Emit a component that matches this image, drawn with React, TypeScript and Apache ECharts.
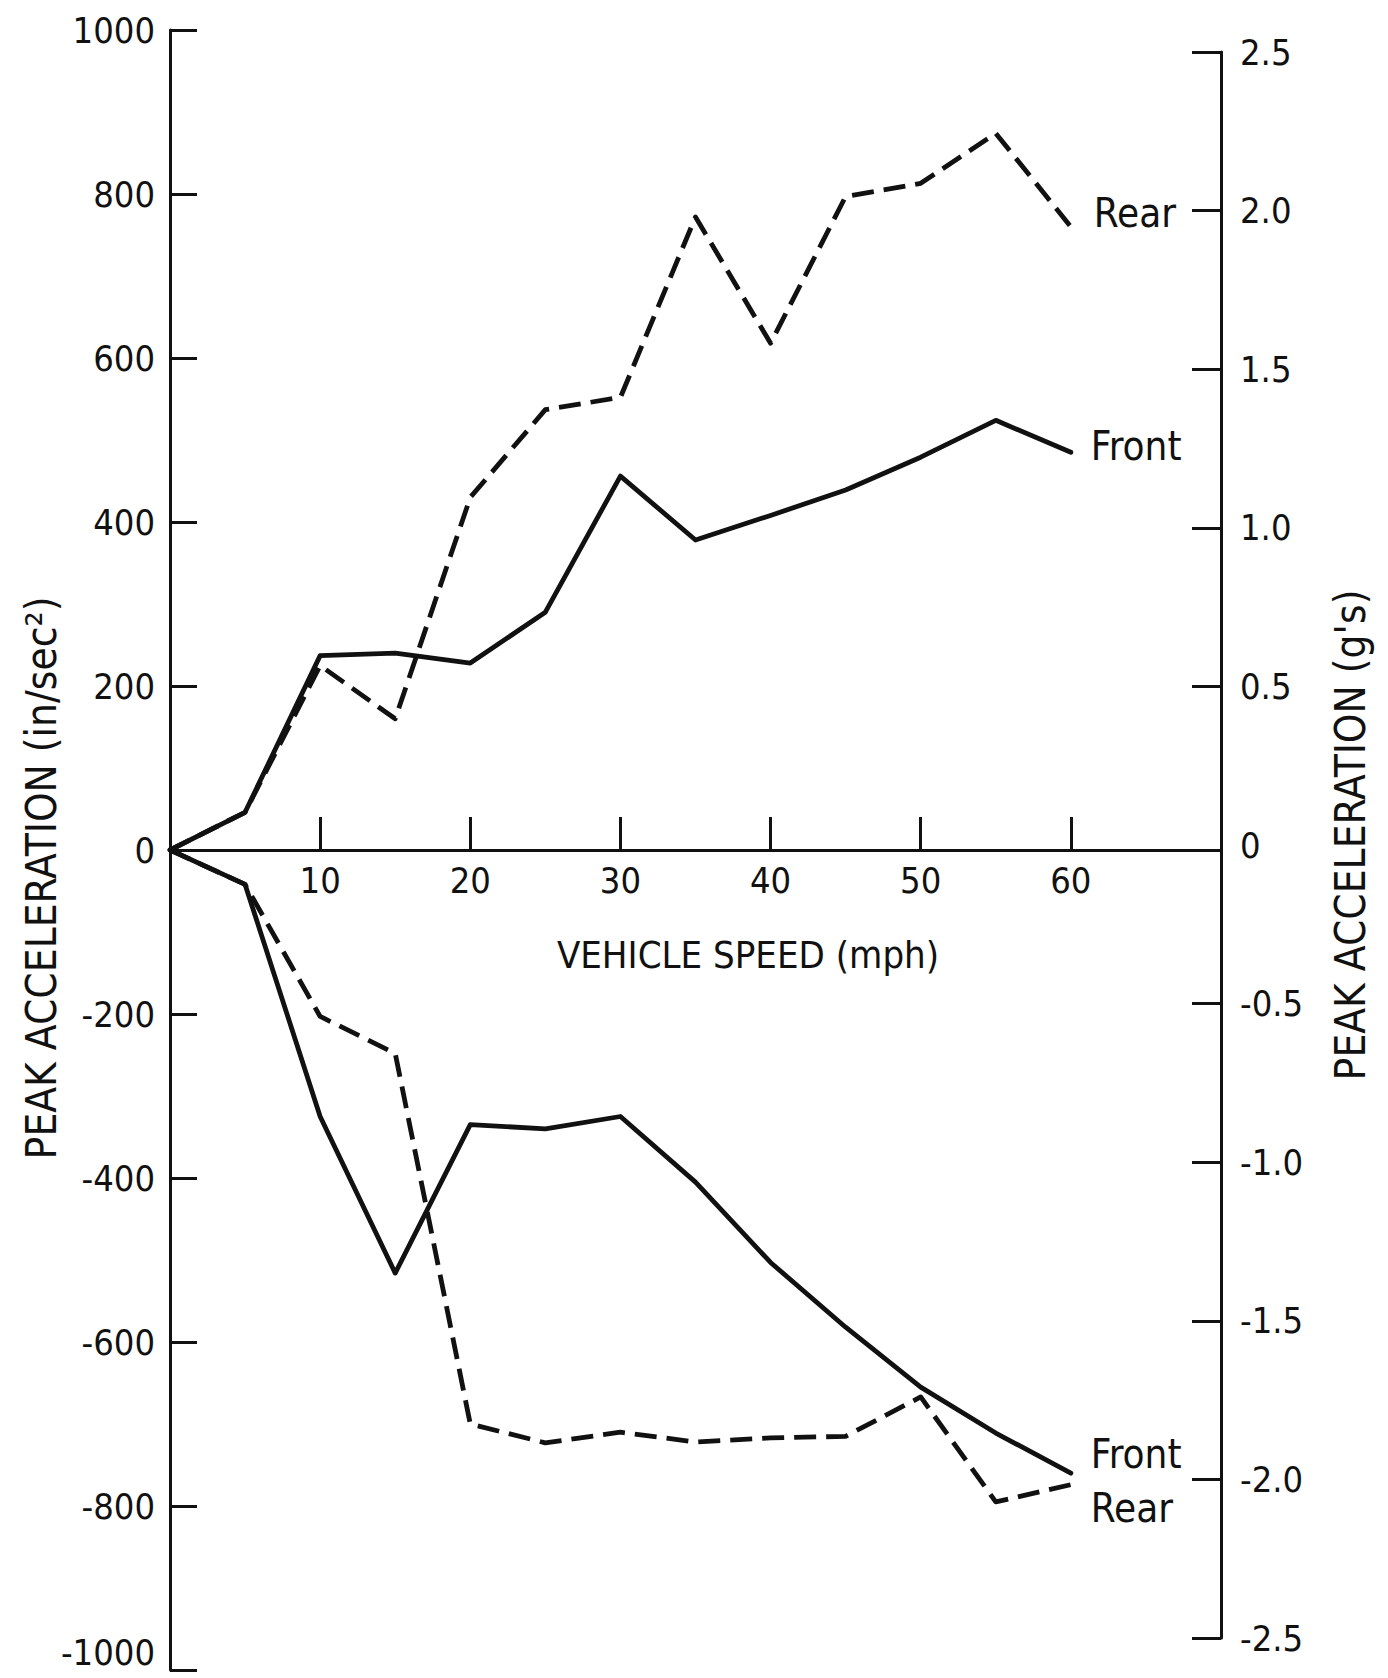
import React, { useEffect, useRef } from "react";
import * as echarts from "echarts";

// Vehicle speed (mph) at which the peak accelerations were measured
const speeds = [0, 5, 10, 15, 20, 25, 30, 35, 40, 45, 50, 55, 60];

// Positive peak acceleration (in/sec^2)
const upperFront = [0, 46, 237, 240, 228, 290, 456, 378, 408, 439, 479, 524, 485];
const upperRear = [0, 46, 225, 160, 430, 537, 552, 772, 618, 797, 813, 874, 760];

// Negative peak acceleration (in/sec^2)
const lowerFront = [0, -42, -325, -516, -335, -340, -325, -405, -503, -582, -655, -711, -760];
const lowerRear = [0, -42, -203, -248, -700, -723, -710, -722, -717, -715, -667, -795, -774];

const speedTicks = [10, 20, 30, 40, 50, 60];
const gTicks = [2.5, 2.0, 1.5, 1.0, 0.5, -0.5, -1.0, -1.5, -2.0, -2.5];

const FONT = "'DejaVu Sans Condensed', 'DejaVu Sans', sans-serif";
const INK = "#111";

function pairs(ys: number[]) {
  return speeds.map((s, i) => [s, ys[i]]);
}

export default function App() {
  const ref = useRef<HTMLDivElement>(null);

  useEffect(() => {
    document.body.style.margin = "0";
    document.body.style.overflow = "hidden";
    const chart = echarts.init(ref.current!, null, { renderer: "svg" });

    const solid = { color: INK, width: 4.8, type: "solid" as const, cap: "round" as const, join: "round" as const };
    const dashed = { color: INK, width: 4.8, type: [22, 10] as any, cap: "butt" as const, join: "round" as const };
    const endLabelBase = {
      show: true,
      color: INK,
      fontFamily: FONT,
      fontSize: 40,
      align: "left" as const,
      verticalAlign: "middle" as const,
      distance: 0,
    };
    const lineSeries = (name: string, ys: number[], style: any, label: string, offset: number[]) => ({
      name,
      type: "line",
      xAxisIndex: 0,
      yAxisIndex: 0,
      data: pairs(ys),
      showSymbol: false,
      symbol: "none",
      lineStyle: style,
      endLabel: { ...endLabelBase, formatter: label, offset },
    });

    const option: any = {
      animation: false,
      backgroundColor: "#fff",
      textStyle: { fontFamily: FONT, color: INK },
      grid: [
        // data area: 0..70 mph horizontally, -1000..1000 in/sec^2 vertically
        { left: 170, top: 30, width: 1051, height: 1640, outerBoundsMode: "none", containLabel: false },
        // g's scale on the right
        { left: 170, top: 52, width: 1051, height: 1586, outerBoundsMode: "none", containLabel: false },
        // speed axis, whose bottom edge is the zero line
        { left: 170, top: 30, width: 1051, height: 820, outerBoundsMode: "none", containLabel: false },
      ],
      xAxis: [
        { type: "value", gridIndex: 0, min: 0, max: 70, show: false },
        { type: "value", gridIndex: 1, min: 0, max: 70, show: false },
        {
          type: "value",
          gridIndex: 2,
          position: "bottom",
          min: 0,
          max: 70,
          interval: 10,
          splitLine: { show: false },
          axisLine: { show: true, onZero: false, lineStyle: { color: INK, width: 3 } },
          axisTick: {
            show: true,
            inside: true,
            length: 33,
            customValues: speedTicks,
            lineStyle: { color: INK, width: 3 },
          },
          axisLabel: {
            show: true,
            customValues: speedTicks,
            margin: 12,
            fontSize: 36,
            fontFamily: FONT,
            color: INK,
          },
        },
      ],
      yAxis: [
        {
          type: "value",
          gridIndex: 0,
          position: "left",
          min: -1000,
          max: 1000,
          interval: 200,
          splitLine: { show: false },
          axisLine: { show: true, onZero: false, lineStyle: { color: INK, width: 3 } },
          axisTick: { show: true, inside: true, length: 27, lineStyle: { color: INK, width: 3 } },
          axisLabel: {
            margin: 15,
            fontSize: 36,
            fontFamily: FONT,
            color: INK,
            verticalAlignMinLabel: "bottom",
            formatter: (v: number) => String(v),
          },
        },
        {
          type: "value",
          gridIndex: 1,
          position: "right",
          min: -2.5,
          max: 2.5,
          interval: 0.5,
          splitLine: { show: false },
          axisLine: { show: true, onZero: false, lineStyle: { color: INK, width: 3 } },
          axisTick: {
            show: true,
            inside: true,
            length: 29,
            customValues: gTicks,
            lineStyle: { color: INK, width: 3 },
          },
          axisLabel: {
            margin: 19,
            fontSize: 36,
            fontFamily: FONT,
            color: INK,
            formatter: (v: number) => (v === 0 ? "0" : v.toFixed(1)),
          },
        },
        { type: "value", gridIndex: 2, min: 0, max: 1000, show: false },
      ],
      series: [
        lineSeries("Front (positive)", upperFront, solid, "Front", [20, -6]),
        lineSeries("Rear (positive)", upperRear, dashed, "Rear", [23, -14]),
        lineSeries("Front (negative)", lowerFront, solid, "Front", [20, -19]),
        lineSeries("Rear (negative)", lowerRear, dashed, "Rear", [20, 23]),
      ],
      graphic: [
        {
          type: "text",
          x: 41,
          y: 878,
          rotation: Math.PI / 2,
          style: {
            text: "PEAK ACCELERATION (in/sec²)",
            fontSize: 42,
            fontFamily: FONT,
            fill: INK,
            align: "center",
            verticalAlign: "middle",
            textAlign: "center",
            textVerticalAlign: "middle",
          },
        },
        {
          type: "text",
          x: 1350,
          y: 835,
          rotation: Math.PI / 2,
          style: {
            text: "PEAK ACCELERATION (g's)",
            fontSize: 42,
            fontFamily: FONT,
            fill: INK,
            align: "center",
            verticalAlign: "middle",
            textAlign: "center",
            textVerticalAlign: "middle",
          },
        },
        {
          type: "text",
          x: 748,
          y: 955,
          style: {
            text: "VEHICLE SPEED (mph)",
            fontSize: 38,
            fontFamily: FONT,
            fill: INK,
            align: "center",
            verticalAlign: "middle",
            textAlign: "center",
            textVerticalAlign: "middle",
          },
        },
      ],
    };

    chart.setOption(option);
    return () => chart.dispose();
  }, []);

  return <div ref={ref} style={{ width: 1388, height: 1678 }} />;
}
